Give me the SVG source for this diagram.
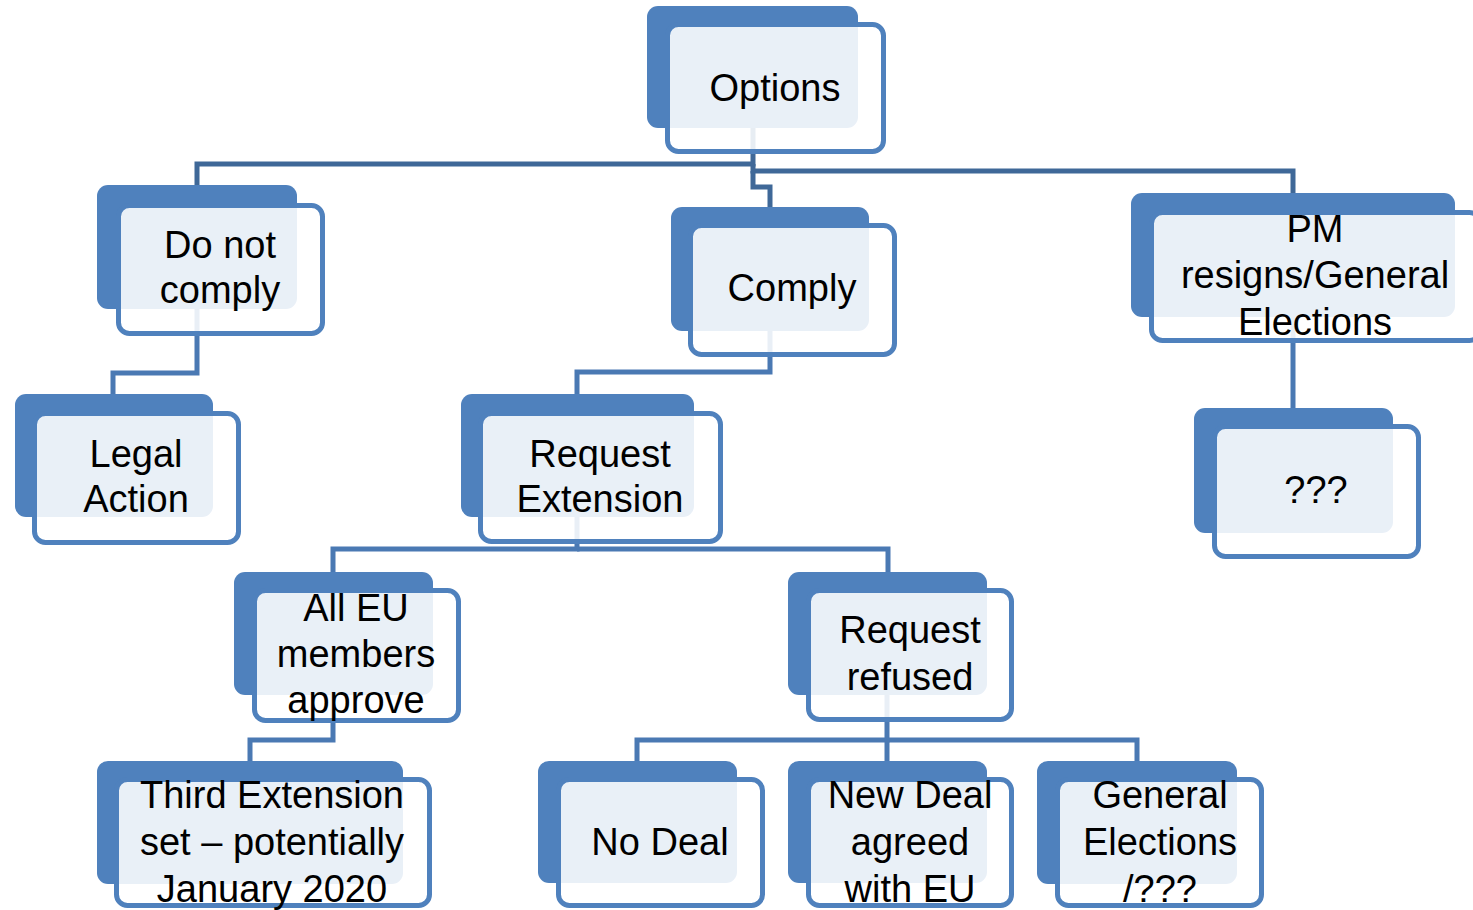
<svg xmlns="http://www.w3.org/2000/svg" width="1473" height="910" viewBox="0 0 1473 910">
<style>
.bk{fill:#4F81BD;}
.fr{fill:#FFFFFF;fill-opacity:0.88;stroke:#4F81BD;stroke-width:5;}
.c1{fill:none;stroke:#3F6898;stroke-width:5;}
.c2{fill:none;stroke:#4A79B3;stroke-width:5;}
text{font-family:"Liberation Sans",Arial,sans-serif;font-size:38px;fill:#000;text-anchor:middle;}
</style>
<rect width="1473" height="910" fill="#FFFFFF"/>
<g id="connectors">
<path class="c1" d="M753,128 V164 H197 V185"/>
<path class="c1" d="M753,164 V171 H1293 V193"/>
<path class="c1" d="M753,171 V187 H770 V207"/>
<path class="c2" d="M197,309 V373 H113 V394"/>
<path class="c2" d="M770,331 V372 H577 V394"/>
<path class="c2" d="M1293,317 V408"/>
<path class="c2" d="M577,517 V549 H333 V572"/>
<path class="c2" d="M577,549 H888 V572"/>
<path class="c2" d="M333,695 V740 H250 V761"/>
<path class="c2" d="M887,695 V740 H637 V761"/>
<path class="c2" d="M887,740 H1137 V761"/>
<path class="c2" d="M887,740 V761"/>
</g>
<g id="n-options">
<rect class="bk" x="647" y="6" width="211" height="122" rx="11"/>
<rect class="fr" x="667.5" y="24.5" width="216" height="127" rx="11"/>
<text x="775" y="101">Options</text>
</g>
<g id="n-donotcomply">
<rect class="bk" x="97" y="185" width="200" height="124" rx="11"/>
<rect class="fr" x="118.5" y="205.5" width="204" height="128" rx="11"/>
<text x="220" y="258">Do not</text>
<text x="220" y="303">comply</text>
</g>
<g id="n-comply">
<rect class="bk" x="671" y="207" width="198" height="124" rx="11"/>
<rect class="fr" x="690.5" y="225.5" width="204" height="129" rx="11"/>
<text x="792" y="301">Comply</text>
</g>
<g id="n-pm">
<rect class="bk" x="1131" y="193" width="324" height="124" rx="11"/>
<rect class="fr" x="1151.5" y="212.5" width="329" height="128" rx="11"/>
<text x="1315" y="242">PM</text>
<text x="1315" y="288">resigns/General</text>
<text x="1315" y="335">Elections</text>
</g>
<g id="n-legal">
<rect class="bk" x="15" y="394" width="198" height="123" rx="11"/>
<rect class="fr" x="34.5" y="413.5" width="204" height="129" rx="11"/>
<text x="136" y="467">Legal</text>
<text x="136" y="512">Action</text>
</g>
<g id="n-reqext">
<rect class="bk" x="461" y="394" width="233" height="123" rx="11"/>
<rect class="fr" x="480.5" y="413.5" width="240" height="128" rx="11"/>
<text x="600" y="467">Request</text>
<text x="600" y="512">Extension</text>
</g>
<g id="n-qqq">
<rect class="bk" x="1194" y="408" width="199" height="125" rx="11"/>
<rect class="fr" x="1214.5" y="426.5" width="204" height="130" rx="11"/>
<text x="1316" y="503">???</text>
</g>
<g id="n-alleu">
<rect class="bk" x="234" y="572" width="199" height="123" rx="11"/>
<rect class="fr" x="254.5" y="590.5" width="204" height="130" rx="11"/>
<text x="356" y="621">All EU</text>
<text x="356" y="667">members</text>
<text x="356" y="713">approve</text>
</g>
<g id="n-reqref">
<rect class="bk" x="788" y="572" width="199" height="123" rx="11"/>
<rect class="fr" x="808.5" y="590.5" width="203" height="129" rx="11"/>
<text x="910" y="643">Request</text>
<text x="910" y="690">refused</text>
</g>
<g id="n-third">
<rect class="bk" x="97" y="761" width="306" height="123" rx="11"/>
<rect class="fr" x="116.5" y="779.5" width="313" height="126" rx="11"/>
<text x="272" y="808">Third Extension</text>
<text x="272" y="855">set – potentially</text>
<text x="272" y="902">January 2020</text>
</g>
<g id="n-nodeal">
<rect class="bk" x="538" y="761" width="199" height="122" rx="11"/>
<rect class="fr" x="558.5" y="779.5" width="204" height="126" rx="11"/>
<text x="660" y="855">No Deal</text>
</g>
<g id="n-newdeal">
<rect class="bk" x="788" y="761" width="199" height="122" rx="11"/>
<rect class="fr" x="808.5" y="779.5" width="203" height="126" rx="11"/>
<text x="910" y="808">New Deal</text>
<text x="910" y="855">agreed</text>
<text x="910" y="902">with EU</text>
</g>
<g id="n-general">
<rect class="bk" x="1037" y="761" width="200" height="123" rx="11"/>
<rect class="fr" x="1057.5" y="779.5" width="204" height="126" rx="11"/>
<text x="1160" y="808">General</text>
<text x="1160" y="855">Elections</text>
<text x="1160" y="902">/???</text>
</g>
</svg>
